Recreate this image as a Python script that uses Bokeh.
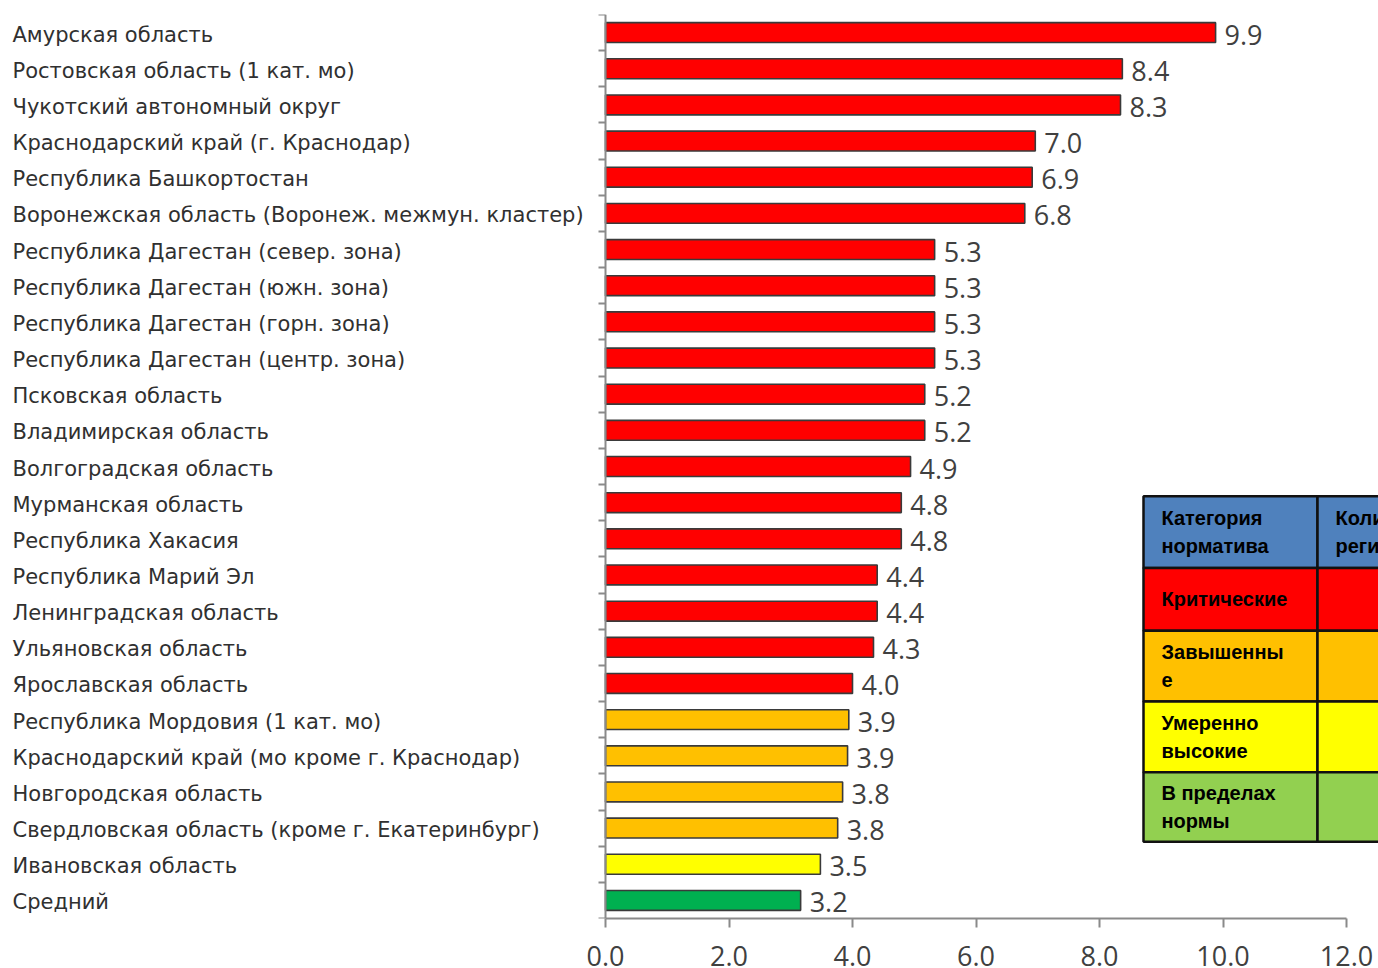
from bokeh.plotting import figure
from bokeh.models import Range1d, LinearAxis, FixedTicker, ColumnDataSource, PrintfTickFormatter
from bokeh.core.properties import value
from bokeh.embed import file_html
from bokeh.resources import INLINE

# ---------------- data ----------------
regions = [
    "Амурская область",
    "Ростовская область (1 кат. мо)",
    "Чукотский автономный округ",
    "Краснодарский край (г. Краснодар)",
    "Республика Башкортостан",
    "Воронежская область (Воронеж. межмун. кластер)",
    "Республика Дагестан (север. зона)",
    "Республика Дагестан (южн. зона)",
    "Республика Дагестан (горн. зона)",
    "Республика Дагестан (центр. зона)",
    "Псковская область",
    "Владимирская область",
    "Волгоградская область",
    "Мурманская область",
    "Республика Хакасия",
    "Республика Марий Эл",
    "Ленинградская область",
    "Ульяновская область",
    "Ярославская область",
    "Республика Мордовия (1 кат. мо)",
    "Краснодарский край (мо кроме г. Краснодар)",
    "Новгородская область",
    "Свердловская область (кроме г. Екатеринбург)",
    "Ивановская область",
    "Средний",
]
values = [9.88, 8.37, 8.34, 6.96, 6.91, 6.79, 5.33, 5.33, 5.33, 5.33,
          5.17, 5.17, 4.94, 4.79, 4.79, 4.40, 4.40, 4.34, 4.00, 3.94,
          3.92, 3.84, 3.76, 3.48, 3.16]
levels = (["critical"] * 19 + ["elevated"] * 4 + ["moderate"] + ["average"])

x_ticks = [0, 2, 4, 6, 8, 10, 12]

table_col1 = ["Категория\nнорматива", "Критические", "Завышенны\nе", "Умеренно\nвысокие", "В пределах\nнормы"]
table_col2 = ["Количество\nрегионов", "", "", "", ""]
table_kinds = ["header", "critical", "elevated", "moderate", "normal"]

# ---------------- styles ----------------
level_colors = {"critical": "#ff0000", "elevated": "#ffc000", "moderate": "#ffff00", "average": "#00b050"}
table_colors = {"header": "#4f81bd", "critical": "#ff0000", "elevated": "#ffc000",
                "moderate": "#ffff00", "normal": "#92d050"}

W, H = 1378, 968
TOP = 14
BOTTOM_PX = 922
PX_X0 = 605.0          # figure px where x = 0
PX_PER_X = 61.75
n = len(regions)
PX_PER_Y = (BOTTOM_PX - TOP) / n

x_start = -PX_X0 / PX_PER_X
x_end = (W - PX_X0) / PX_PER_X

def xd(px):
    return (px - PX_X0) / PX_PER_X

def yd(py):
    return (py - TOP) / PX_PER_Y - 0.5

idx = list(range(n))
src = ColumnDataSource(dict(
    y=idx, v=values, name=regions,
    color=[level_colors[l] for l in levels],
    lab=["%.1f" % v for v in values],
))

p = figure(width=W, height=H, output_backend="svg", toolbar_location=None,
           x_range=Range1d(x_start, x_end), y_range=Range1d(n - 0.5, -0.5),
           y_axis_location=None, min_border_left=0, min_border_right=0,
           min_border_top=TOP, min_border_bottom=H - BOTTOM_PX)
p.outline_line_color = None
p.xgrid.visible = False
p.ygrid.visible = False
p.background_fill_color = "white"

# bars
p.hbar(y="y", left=0, right="v", height=0.55, fill_color="color",
       line_color="#3a3a3a", line_width=1.6, source=src)

# value labels
p.text(x="v", y="y", text="lab", source=src, x_offset=9, y_offset=2,
       text_align="left", text_baseline="middle",
       text_font=value("Open Sans"), text_font_size="27px", text_color="#404040")

# category labels
p.text(x=x_start, y="y", text="name", source=src, x_offset=12, y_offset=2,
       text_align="left", text_baseline="middle",
       text_font=value("DejaVu Sans"), text_font_size="21px", text_color="#303030")

# y axis at x=0 with ticks between categories
y_bounds = [i - 0.5 for i in range(n + 1)]
yax = LinearAxis(fixed_location=0,
                 ticker=FixedTicker(ticks=y_bounds, minor_ticks=[]),
                 major_label_overrides={t: "" for t in y_bounds},
                 major_tick_in=0, major_tick_out=7,
                 minor_tick_out=0, minor_tick_in=0,
                 axis_line_color="#8a8a8a", axis_line_width=2,
                 major_tick_line_color="#8a8a8a", major_tick_line_width=2)
p.add_layout(yax, "left")

# x axis
xax = p.xaxis[0]
xax.ticker = FixedTicker(ticks=x_ticks, minor_ticks=[])
xax.bounds = (x_ticks[0], x_ticks[-1])
xax.formatter = PrintfTickFormatter(format="%.1f")
xax.axis_line_color = "#8a8a8a"
xax.axis_line_width = 2
xax.major_tick_line_color = "#8a8a8a"
xax.major_tick_line_width = 2
xax.major_tick_in = 0
xax.major_tick_out = 9
xax.minor_tick_out = 0
xax.major_label_standoff = 18
xax.major_label_text_font = "Open Sans"
xax.major_label_text_font_size = "27px"
xax.major_label_text_color = "#404040"

# table (legend of categories)
row_px = [498, 570, 633, 704, 775, 845]
c0, c1, c2 = 1143, 1317, 1500
tsrc = ColumnDataSource(dict(
    top=[yd(row_px[i]) for i in range(5)],
    bottom=[yd(row_px[i + 1]) for i in range(5)],
    ymid=[(yd(row_px[i]) + yd(row_px[i + 1])) / 2 for i in range(5)],
    color=[table_colors[k] for k in table_kinds],
    t1=table_col1, t2=table_col2,
))
p.quad(left=xd(c0), right=xd(c1), top="top", bottom="bottom", fill_color="color",
       line_color="#111111", line_width=2.5, source=tsrc)
p.quad(left=xd(c1), right=xd(c2), top="top", bottom="bottom", fill_color="color",
       line_color="#111111", line_width=2.5, source=tsrc)
p.text(x=xd(c0 + 18), y="ymid", text="t1", source=tsrc, text_align="left",
       text_baseline="middle", text_font=value("Liberation Sans"), text_font_style="bold",
       text_font_size="20px", text_line_height=1.25, text_color="#000000")
p.text(x=xd(c1 + 18), y="ymid", text="t2", source=tsrc, text_align="left",
       text_baseline="middle", text_font=value("Liberation Sans"), text_font_style="bold",
       text_font_size="20px", text_line_height=1.25, text_color="#000000")

open("out.html", "w").write(file_html(p, INLINE))
